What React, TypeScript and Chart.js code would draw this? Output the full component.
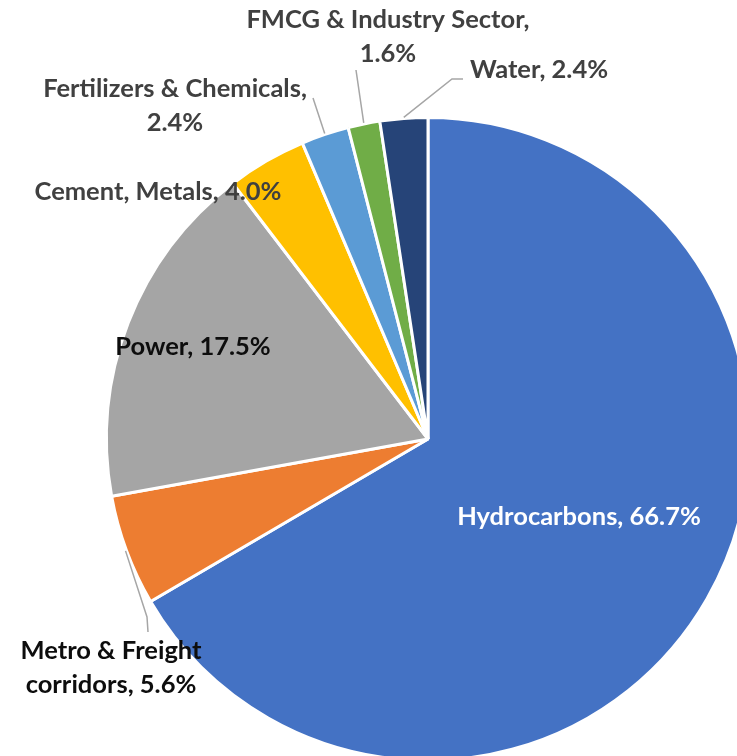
import React, { useEffect, useRef } from "react";
import { Chart, registerables } from "chart.js";

Chart.register(...registerables);

const categories = [
  "Hydrocarbons",
  "Metro & Freight corridors",
  "Power",
  "Cement, Metals",
  "Fertilizers & Chemicals",
  "FMCG & Industry Sector",
  "Water",
];
const shares = [66.7, 5.6, 17.5, 4.0, 2.4, 1.6, 2.4];
const sliceColors = ["#4472C4", "#ED7D31", "#A5A5A5", "#FFC000", "#5B9BD5", "#70AD47", "#264478"];

// label text split into lines (text only)
const labelLines: string[][] = [
  ["Hydrocarbons, 66.7%"],
  ["Metro & Freight", "corridors, 5.6%"],
  ["Power, 17.5%"],
  ["Cement, Metals, 4.0%"],
  ["Fertilizers & Chemicals,", "2.4%"],
  ["FMCG & Industry Sector,", "1.6%"],
  ["Water, 2.4%"],
];
const labelColors = ["#FFFFFF", "#0D0D0D", "#0D0D0D", "#404040", "#404040", "#404040", "#404040"];

// label placement, relative to the pie centre (layout only)
type Pt = [number, number];
const labelAnchors: Pt[] = [
  [151, 78],
  [-317, 212],
  [-235, -92],
  [-270, -247],
  [-253, -350],
  [-40, -419],
  [111, -369],
];
const leaderPaths: (Pt[] | null)[] = [
  null,
  [[-281, 178], [-280, 193]],
  null,
  null,
  [[-115, -341]],
  [[-72, -369]],
  [[24, -360], [35, -360]],
];

const LINE_H = 34;
const FONT = "bold 25.5px Lato";

const labelPlugin = {
  id: "pieLabels",
  afterDatasetsDraw(chart: any) {
    const meta = chart.getDatasetMeta(0);
    const ctx = chart.ctx;
    ctx.save();
    meta.data.forEach((arc: any, i: number) => {
      const { x, y, outerRadius, startAngle, endAngle } = arc.getProps(
        ["x", "y", "outerRadius", "startAngle", "endAngle"],
        true
      );
      const path = leaderPaths[i];
      if (path) {
        const mid = (startAngle + endAngle) / 2;
        ctx.beginPath();
        ctx.strokeStyle = "#A6A6A6";
        ctx.lineWidth = 1.5;
        ctx.moveTo(x + Math.cos(mid) * (outerRadius + 1), y + Math.sin(mid) * (outerRadius + 1));
        path.forEach(([dx, dy]) => ctx.lineTo(x + dx, y + dy));
        ctx.stroke();
      }
      const [ax, ay] = labelAnchors[i];
      ctx.font = FONT;
      ctx.fillStyle = labelColors[i];
      ctx.textAlign = "center";
      ctx.textBaseline = "middle";
      labelLines[i].forEach((line, k) => {
        ctx.fillText(line, x + ax, y + ay + k * LINE_H);
      });
    });
    ctx.restore();
  },
};

export default function App() {
  const ref = useRef<HTMLCanvasElement>(null);
  useEffect(() => {
    if (!ref.current) return;
    const chart = new Chart(ref.current, {
      type: "pie",
      data: {
        labels: categories,
        datasets: [
          {
            data: shares,
            backgroundColor: sliceColors,
            borderColor: "#FFFFFF",
            borderWidth: 3,
          },
        ],
      },
      options: {
        responsive: false,
        maintainAspectRatio: false,
        animation: false,
        layout: { padding: { left: 105, right: 9, top: 116, bottom: 18 } },
        plugins: {
          legend: { display: false },
          tooltip: { enabled: false },
        },
      },
      plugins: [labelPlugin],
    });
    return () => chart.destroy();
  }, []);
  return (
    <div
      style={{
        position: "fixed",
        left: 0,
        top: 0,
        width: 737,
        height: 756,
        overflow: "hidden",
        background: "#FFFFFF",
      }}
    >
      <canvas ref={ref} width={760} height={780} style={{ display: "block" }} />
    </div>
  );
}
